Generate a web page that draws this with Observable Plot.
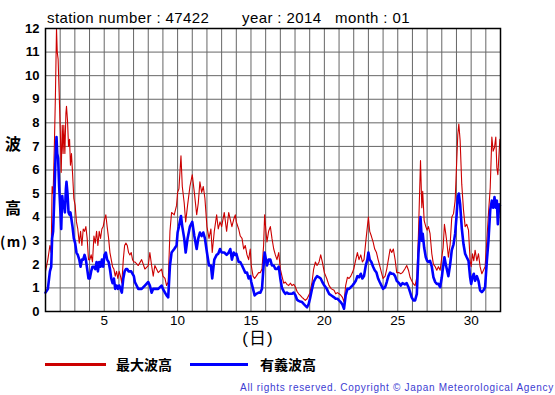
<!DOCTYPE html>
<html><head><meta charset="utf-8">
<script src="https://cdn.jsdelivr.net/npm/d3@7"></script>
<script src="https://cdn.jsdelivr.net/npm/@observablehq/plot@0.6"></script>
<style>
body{margin:0;background:#fff;}
#wrap{position:relative;width:555px;height:395px;overflow:hidden;background:#fff;font-family:"Liberation Sans",Arial,sans-serif;color:#000;}
.abs{position:absolute;white-space:nowrap;}
.jp{font-family:"Noto Sans CJK JP",sans-serif;}
</style></head>
<body>
<div id="wrap">
  <div id="chart" class="abs" style="left:0;top:0"></div>
  <div class="abs" style="left:47px;top:10px;font-size:15px;line-height:15px;letter-spacing:0.4px">station number : 47422</div>
  <div class="abs" style="left:242px;top:10px;font-size:15px;line-height:15px;letter-spacing:0.4px">year : 2014</div>
  <div class="abs" style="left:335px;top:10px;font-size:15px;line-height:15px;letter-spacing:0.4px">month : 01</div>
  <div class="abs jp" style="left:5px;top:135px;font-size:16px;line-height:16px;font-weight:bold">波</div>
  <div class="abs jp" style="left:5px;top:199px;font-size:16px;line-height:16px;font-weight:bold">高</div>
  <div class="abs jp" style="left:0px;top:233px;font-size:14px;line-height:16px;font-weight:bold;letter-spacing:1.5px">(m)</div>
  <div class="abs" style="left:258px;top:330px;transform:translateX(-50%);font-family:'Liberation Sans','Noto Sans CJK JP',sans-serif;font-size:17px;line-height:17px;letter-spacing:1px">(日)</div>
  <div class="abs" style="left:45px;top:363px;width:61px;height:3px;background:#cc0000"></div>
  <div class="abs jp" style="left:116px;top:356px;font-size:14px;line-height:16px;font-weight:bold">最大波高</div>
  <div class="abs" style="left:190px;top:363px;width:58px;height:3px;background:#0000ff"></div>
  <div class="abs jp" style="left:260px;top:356px;font-size:14px;line-height:16px;font-weight:bold">有義波高</div>
  <div class="abs" style="right:1px;top:382px;font-size:10px;line-height:11px;letter-spacing:0.7px;color:#3c3cd2">All rights reserved. Copyright © Japan Meteorological Agency</div>
</div>
<script>
// Day of month (fractional) at which the wave heights were read
const days = [
 1.00,1.16,1.30,1.39,1.45,1.52,1.61,1.68,1.75,1.80,
 1.86,1.93,2.02,2.07,2.14,2.20,2.25,2.32,2.39,2.43,
 2.50,2.57,2.64,2.70,2.77,2.84,2.93,3.02,3.11,3.20,
 3.30,3.39,3.48,3.57,3.66,3.75,3.84,3.93,4.02,4.11,
 4.20,4.30,4.39,4.48,4.57,4.66,4.75,4.84,4.93,5.02,
 5.11,5.20,5.30,5.39,5.48,5.57,5.66,5.75,5.84,5.93,
 6.02,6.11,6.20,6.30,6.39,6.48,6.57,6.66,6.75,6.84,
 6.93,7.02,
 7.09,7.32,7.55,7.77,8.00,8.11,8.23,8.34,8.45,8.68,
 8.91,9.00,9.14,9.25,9.36,9.48,9.59,9.77,9.93,10.00,
 10.09,10.23,10.32,10.45,10.55,10.68,10.84,11.00,11.14,11.30,
 11.41,11.52,11.64,11.75,11.86,12.00,12.14,12.27,12.36,12.50,
 12.66,12.77,12.89,13.00,13.18,13.34,
 13.48,13.59,13.70,13.82,13.93,14.00,14.16,14.27,14.39,14.50,
 14.61,14.73,14.84,14.95,15.02,15.14,15.25,15.36,15.52,15.64,
 15.75,15.86,15.93,16.02,16.09,16.20,16.32,16.43,16.55,16.66,
 16.77,16.89,17.00,17.11,17.23,17.34,17.45,17.57,17.68,17.80,
 17.91,18.02,18.14,18.25,18.36,18.48,18.59,18.70,18.82,18.93,
 19.02,19.16,19.27,19.39,19.50,
 19.64,19.75,19.86,20.00,20.16,20.32,20.48,20.66,20.77,20.89,
 21.00,21.11,21.23,21.34,21.45,21.57,21.68,21.80,21.91,22.00,
 22.14,22.25,22.36,22.48,22.59,22.70,22.82,22.93,23.00,23.09,
 23.20,23.32,23.43,23.55,23.66,23.77,23.89,24.00,24.14,24.25,
 24.36,24.48,24.59,24.70,24.82,24.93,25.09,25.20,25.32,25.48,
 25.61,
 25.73,25.84,25.95,26.07,26.18,26.30,26.41,26.50,26.55,26.64,
 26.70,26.80,26.91,27.00,27.09,27.20,27.32,27.43,27.55,27.66,
 27.77,27.89,28.00,28.09,28.18,28.27,28.36,28.45,28.57,28.68,
 28.80,28.91,29.00,29.09,29.16,29.25,29.36,29.48,29.59,29.70,
 29.82,29.93,30.00,30.09,30.18,30.27,30.39,30.50,30.61,30.73,
 30.84,30.95,31.07,31.18,31.30,31.41,31.50,31.59,31.68,31.75,
 31.82,31.91,31.96
];
// 最大波高 (maximum wave height, m)
const maxWave = [
 1.7,2.2,2.8,2.5,5.3,5.0,7.2,9.3,12.0,11.0,
 10.7,9.3,7.4,5.9,7.9,6.7,7.9,6.7,8.4,8.7,
 8.1,7.0,7.3,6.2,6.7,5.9,4.8,4.5,3.8,3.5,
 2.9,3.4,2.8,3.5,3.4,3.6,3.1,2.2,2.2,2.4,
 2.1,3.2,2.9,3.4,2.8,3.4,3.1,3.5,3.6,3.9,
 4.1,3.6,3.1,2.5,2.2,1.9,1.8,1.5,1.7,1.4,
 1.7,1.5,1.2,2.2,2.8,2.9,2.8,2.5,2.4,2.5,
 2.2,2.1,
 2.1,1.95,2.2,1.8,1.95,2.5,1.95,1.5,1.95,1.65,
 1.8,1.5,1.4,1.1,1.25,3.4,4.2,4.1,4.5,5.05,
 5.2,6.6,5.3,4.6,3.8,4.5,5.3,5.8,5.05,4.1,
 4.6,5.5,5.05,5.3,4.8,3.6,3.1,3.5,2.5,3.4,
 4.1,3.5,3.8,3.6,4.2,3.4,
 4.2,3.9,3.6,3.9,4.1,3.8,3.5,3.2,3.1,2.65,
 2.8,2.4,2.2,2.65,1.95,1.5,1.4,1.5,1.65,1.65,
 1.8,2.8,4.1,3.4,2.95,3.4,3.6,3.1,2.65,2.4,
 2.2,2.5,1.8,1.5,1.2,1.25,1.15,1.1,1.2,1.1,
 1.15,1.05,0.85,0.75,0.68,0.6,0.54,0.47,0.54,0.68,
 0.8,1.25,1.8,2.1,1.95,
 2.1,2.4,2.1,1.65,1.4,1.1,0.96,0.9,0.75,0.8,
 0.75,0.7,0.6,0.4,1.1,1.45,1.4,1.5,1.65,1.8,
 2.2,2.5,2.2,2.4,2.1,2.2,2.95,3.6,4.0,3.4,
 3.2,2.95,2.65,2.5,2.2,1.95,1.65,1.4,1.5,1.8,
 2.2,2.65,2.5,2.65,2.2,1.65,1.65,1.6,1.65,1.8,
 1.95,
 1.75,1.45,1.3,1.17,1.1,1.45,3.3,5.3,6.4,4.4,
 5.1,3.85,3.6,3.45,3.6,3.3,2.45,2.0,1.9,1.75,
 1.9,1.75,2.3,2.7,3.7,3.3,2.85,2.3,2.85,4.0,
 4.15,4.7,6.1,7.5,7.95,7.25,5.4,4.3,3.6,3.7,
 3.45,2.15,1.9,2.45,2.15,2.6,2.15,2.45,1.9,1.6,
 1.75,1.9,3.0,4.15,5.25,7.4,6.8,6.95,7.4,6.1,
 5.8,6.8,7.3
];
// 有義波高 (significant wave height, m)
const sigWave = [
 0.8,0.95,1.7,1.9,3.1,3.4,5.0,6.5,7.4,6.7,
 6.5,5.3,4.2,3.5,4.9,4.5,4.6,4.2,5.2,5.5,
 5.0,4.2,4.1,4.2,3.9,3.6,3.1,2.9,2.5,2.4,
 2.2,1.9,2.2,2.2,2.4,2.2,1.8,1.4,1.4,1.7,
 1.9,1.9,1.8,2.1,1.7,2.1,1.9,2.2,1.9,2.4,
 2.5,2.2,2.1,1.8,1.4,1.2,1.4,0.96,1.1,0.96,
 1.1,0.96,0.8,1.4,1.7,1.8,1.8,1.7,1.7,1.7,
 1.6,1.5,
 1.25,0.96,0.96,1.1,1.25,1.1,0.8,0.96,0.96,0.96,
 1.1,0.96,0.8,0.68,0.6,1.95,2.5,2.65,2.8,3.35,
 3.6,4.05,3.6,3.1,2.5,3.1,3.6,3.8,3.2,2.65,
 3.1,3.35,3.2,3.35,3.1,2.5,1.95,1.95,1.4,2.2,
 2.4,2.45,2.65,2.5,2.5,2.4,
 2.5,2.65,2.2,2.5,2.4,2.45,2.1,2.1,1.95,1.8,
 1.65,1.65,1.4,1.5,1.25,0.96,0.68,0.75,0.8,0.8,
 0.96,1.95,2.5,2.2,1.95,2.2,2.2,1.95,1.95,1.8,
 1.8,1.9,1.4,1.0,0.85,0.75,0.8,0.75,0.75,0.75,
 0.8,0.7,0.5,0.45,0.42,0.4,0.32,0.25,0.18,0.32,
 0.54,0.96,1.25,1.4,1.5,
 1.45,1.4,1.25,1.1,0.96,0.75,0.68,0.6,0.54,0.54,
 0.47,0.4,0.3,0.12,0.68,0.96,0.96,1.03,1.1,1.17,
 1.3,1.5,1.45,1.6,1.4,1.5,1.95,2.2,2.5,2.2,
 2.1,1.9,1.75,1.65,1.4,1.25,1.1,0.96,1.03,1.25,
 1.5,1.65,1.6,1.6,1.5,1.3,1.2,1.1,1.2,1.15,
 1.2,
 1.03,0.82,0.6,0.47,0.47,0.75,2.45,3.3,4.0,3.0,
 3.3,2.7,2.3,2.15,2.1,2.15,1.9,1.45,1.25,1.17,
 1.17,1.03,1.45,1.9,2.3,2.0,1.75,1.5,2.0,2.6,
 2.85,3.3,4.0,4.85,5.0,4.55,3.55,2.85,2.45,2.3,
 2.15,1.45,1.17,1.45,1.6,1.3,1.5,1.3,0.9,0.82,
 0.9,1.03,2.15,3.0,4.3,4.7,4.4,4.85,4.4,4.7,
 3.7,4.55,4.5
];
const xTicks = [5, 10, 15, 20, 25, 30];
const yTicks = [0,1,2,3,4,5,6,7,8,9,10,11,12];
const dayGrid = d3.range(2, 32);
const levelGrid = d3.range(1, 12);

if (days.length !== maxWave.length || days.length !== sigWave.length) {
  throw new Error(`length mismatch: days ${days.length}, max ${maxWave.length}, sig ${sigWave.length}`);
}
const rows = days.map((d, i) => ({day: d, max: maxWave[i], sig: sigWave[i]}));

const chart = Plot.plot({
  width: 555,
  height: 345,
  marginLeft: 45,
  marginRight: 55,
  marginTop: 28,
  marginBottom: 34,
  style: {fontFamily: "'Liberation Sans', Arial, sans-serif", background: "transparent", overflow: "visible", color: "#000"},
  x: {domain: [1, 32]},
  y: {domain: [0, 12]},
  marks: [
    Plot.ruleX(dayGrid, {stroke: "#666", strokeWidth: 1}),
    Plot.ruleY(levelGrid, {stroke: "#666", strokeWidth: 1}),
    Plot.line(rows, {x: "day", y: "max", stroke: "#cc0000", strokeWidth: 1.1}),
    Plot.line(rows, {x: "day", y: "sig", stroke: "#0000ff", strokeWidth: 2.6}),
    Plot.frame({stroke: "#000", strokeWidth: 1.5}),
    Plot.axisX({ticks: xTicks, tickSize: 0, tickPadding: 4, fontSize: 13.5, label: null}),
    Plot.axisY({ticks: yTicks, tickSize: 0, tickPadding: 6, fontSize: 13, fontWeight: "bold", label: null})
  ]
});
document.getElementById("chart").appendChild(chart);
</script>
</body></html>
